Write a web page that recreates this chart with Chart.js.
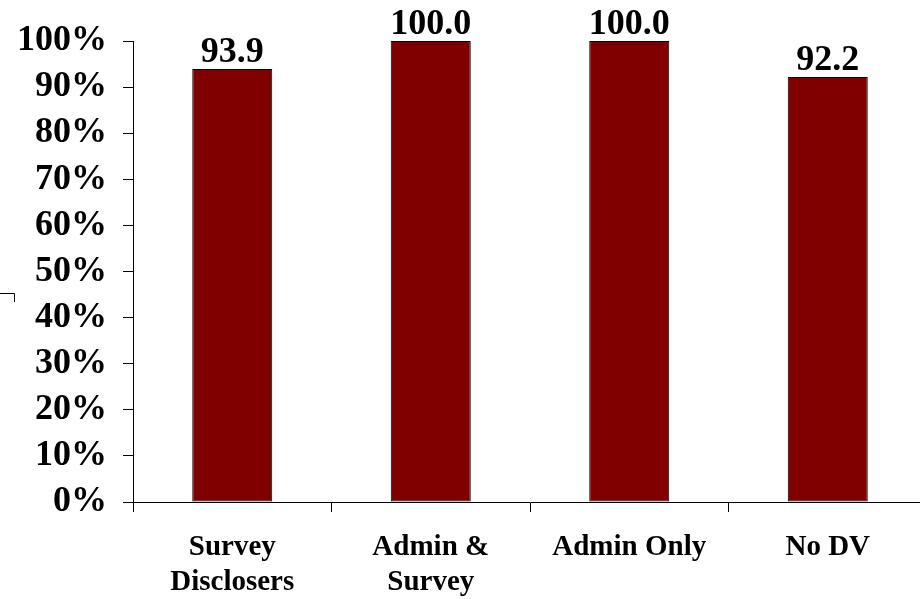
<!DOCTYPE html>
<html>
<head>
<meta charset="utf-8">
<script src="https://cdn.jsdelivr.net/npm/chart.js@4"></script>
<style>
  html, body { margin: 0; padding: 0; background: #fff; overflow: hidden; }
</style>
</head>
<body>
<canvas id="disclosureChart" width="928" height="599"></canvas>
<script>
const categories = [["Survey", "Disclosers"], ["Admin &", "Survey"], "Admin Only", "No DV"];
const percentValues = [93.9, 100.0, 100.0, 92.2];
const yTicks = [0, 10, 20, 30, 40, 50, 60, 70, 80, 90, 100];

const serif = "'Liberation Serif', 'Times New Roman', serif";

// value labels printed above each bar
const barValueLabels = {
    id: 'barValueLabels',
    afterDatasetsDraw(chart) {
        const ctx = chart.ctx;
        const meta = chart.getDatasetMeta(0);
        ctx.save();
        ctx.font = "bold 36px " + serif;
        ctx.fillStyle = "#000";
        ctx.textAlign = "center";
        ctx.textBaseline = "alphabetic";
        meta.data.forEach((bar, i) => {
            ctx.fillText(percentValues[i].toFixed(1), bar.x, bar.y - 7);
        });
        ctx.restore();
    }
};

// little bracket stub at the left edge
const edgeMark = {
    id: 'edgeMark',
    afterDraw(chart) {
        const ctx = chart.ctx;
        ctx.save();
        ctx.strokeStyle = "#000";
        ctx.lineWidth = 1;
        ctx.beginPath();
        ctx.moveTo(0, 293.5);
        ctx.lineTo(14.5, 293.5);
        ctx.lineTo(14.5, 302);
        ctx.stroke();
        ctx.restore();
    }
};

new Chart(document.getElementById("disclosureChart"), {
    type: 'bar',
    data: {
        labels: categories,
        datasets: [{
            data: percentValues,
            backgroundColor: '#800000',
            borderColor: '#000',
            borderWidth: 1,
            borderSkipped: false,
            categoryPercentage: 1.0,
            barPercentage: 0.403
        }]
    },
    options: {
        responsive: false,
        animation: false,
        layout: { padding: { top: 41, left: 0, right: 1, bottom: 0 } },
        plugins: {
            legend: { display: false },
            tooltip: { enabled: false }
        },
        scales: {
            x: {
                afterFit(scale) { scale.height = 97; },
                grid: {
                    offset: true,
                    drawOnChartArea: false,
                    drawTicks: true,
                    tickLength: 10,
                    color: '#000'
                },
                border: { color: '#000', width: 1 },
                ticks: {
                    color: '#000',
                    padding: 18,
                    maxRotation: 0,
                    autoSkip: false,
                    font: { family: serif, size: 29, weight: 'bold', lineHeight: 1.2 }
                }
            },
            y: {
                min: 0,
                max: 100,
                afterBuildTicks(scale) {
                    scale.ticks = yTicks.map(v => ({ value: v }));
                },
                afterFit(scale) { scale.width = 133; },
                grid: {
                    drawOnChartArea: false,
                    drawTicks: true,
                    tickLength: 10,
                    color: '#000'
                },
                border: { color: '#000', width: 1 },
                ticks: {
                    color: '#000',
                    padding: 16,
                    autoSkip: false,
                    font: { family: serif, size: 36, weight: 'bold' },
                    callback: v => v + '%'
                }
            }
        }
    },
    plugins: [barValueLabels, edgeMark]
});
</script>
</body>
</html>
